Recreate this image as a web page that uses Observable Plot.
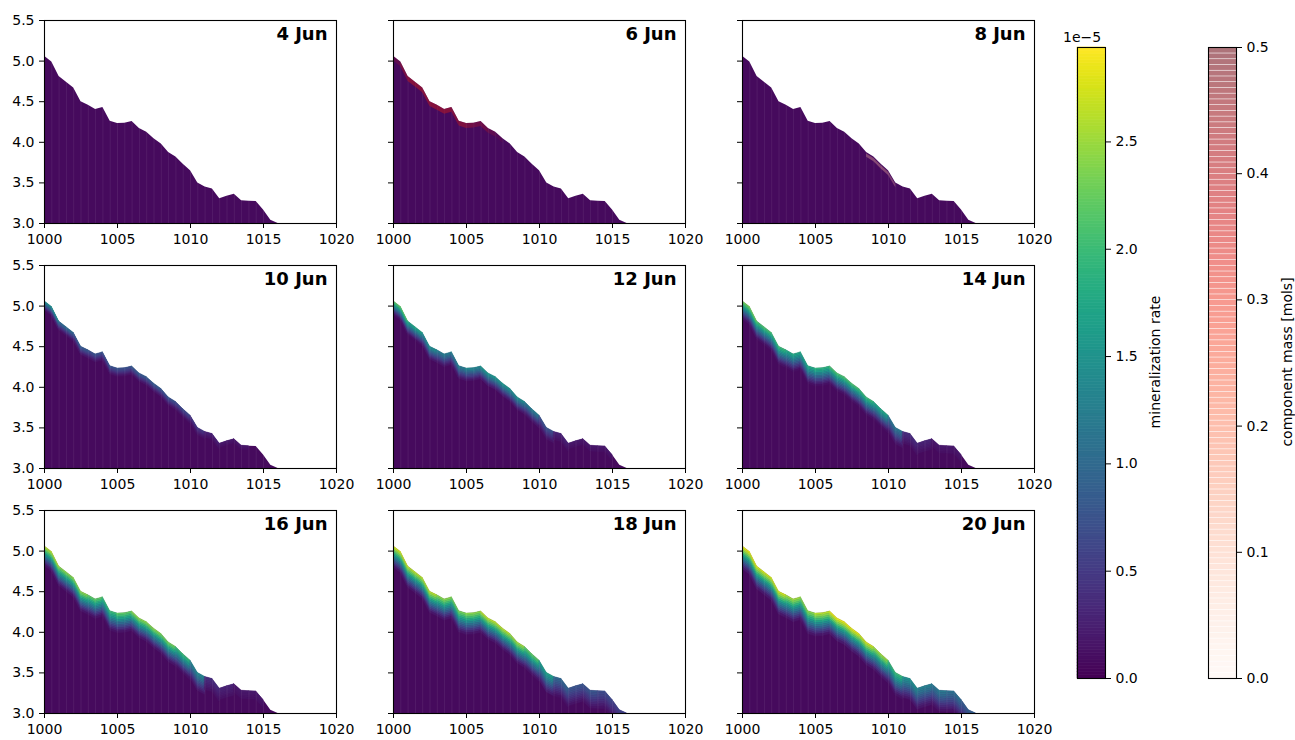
<!DOCTYPE html>
<html>
<head>
<meta charset="utf-8">
<script src="https://cdn.jsdelivr.net/npm/d3@7"></script>
<script src="https://cdn.jsdelivr.net/npm/@observablehq/plot@0.6"></script>
<style>
  html, body { margin: 0; padding: 0; background: #fff; }
  #root { position: relative; width: 1295px; height: 740px; overflow: hidden; font-family: "DejaVu Sans", sans-serif; }
  #root > svg, #root > .lbl { position: absolute; }
  .lbl { font-size: 14px; color: #000; white-space: nowrap; }
  .rot { transform: translate(-50%, -50%) rotate(-90deg); }
</style>
</head>
<body>
<div id="root"></div>
<script>
// ---------------- data ----------------
const dates = ["4 Jun", "6 Jun", "8 Jun", "10 Jun", "12 Jun", "14 Jun", "16 Jun", "18 Jun", "20 Jun"];

// surface (top of the domain), every 0.5 m
const surfaceX = [1000, 1000.5, 1001, 1001.5, 1002, 1002.5, 1003, 1003.5, 1004, 1004.5, 1005, 1005.5,
  1006, 1006.5, 1007, 1007.5, 1008, 1008.5, 1009, 1009.5, 1010, 1010.5, 1011, 1011.5, 1012, 1012.5,
  1013, 1013.5, 1014, 1014.5, 1015, 1015.5, 1016];
const surfaceY = [5.06, 4.99, 4.81, 4.74, 4.67, 4.50, 4.455, 4.405, 4.43, 4.26, 4.23, 4.235,
  4.255, 4.17, 4.125, 4.045, 3.98, 3.875, 3.82, 3.73, 3.65, 3.50, 3.45, 3.425, 3.305, 3.335,
  3.36, 3.28, 3.275, 3.27, 3.165, 3.04, 3.0];

// mineralization rate at the surface (units of 1e-5), one value per metre from 1000 to 1016
const rateJun4  = [0, 0, 0, 0, 0, 0, 0, 0, 0, 0, 0, 0, 0, 0, 0, 0, 0];
const rateJun6  = [0, 0, 0, 0, 0, 0, 0, 0, 0, 0, 0, 0, 0, 0, 0, 0, 0];
const rateJun8  = [0, 0, 0, 0, 0, 0, 0, 0, 0, 0, 0, 0, 0, 0, 0, 0, 0];
const rateJun10 = [1.5, 1.1, 0.9, 0.8, 0.8, 0.8, 0.9, 0.9, 0.8, 0.7, 0.5, 0.3, 0.2, 0.2, 0.1, 0.1, 0];
const rateJun12 = [2.2, 1.8, 1.5, 1.3, 1.3, 1.4, 1.6, 1.6, 1.5, 1.3, 0.8, 0.3, 0.2, 0.2, 0.2, 0.1, 0];
const rateJun14 = [2.3, 2.1, 2.0, 1.8, 1.8, 1.9, 2.1, 2.1, 2.0, 1.8, 1.2, 0.4, 0.3, 0.2, 0.2, 0.1, 0];
const rateJun16 = [2.6, 2.4, 2.4, 2.2, 2.0, 2.2, 2.4, 2.4, 2.3, 2.0, 1.4, 0.4, 0.3, 0.2, 0.2, 0.1, 0];
const rateJun18 = [2.7, 2.6, 2.6, 2.4, 2.3, 2.4, 2.6, 2.6, 2.5, 2.2, 1.7, 1.0, 0.8, 0.8, 0.7, 0.6, 0];
const rateJun20 = [2.8, 2.7, 2.7, 2.5, 2.4, 2.6, 2.8, 2.8, 2.7, 2.5, 2.0, 1.5, 1.3, 1.2, 1.1, 0.9, 0];
const rateByDate = [rateJun4, rateJun6, rateJun8, rateJun10, rateJun12, rateJun14, rateJun16, rateJun18, rateJun20];

// thickness of the reactive band below the surface, per date
const bandDepth = [0, 0, 0, 0.12, 0.17, 0.22, 0.24, 0.26, 0.28];
// relative rate in the mesh layers below the surface (top to bottom)
const layerFactor = [1.0, 0.93, 0.85, 0.76, 0.66, 0.56, 0.46, 0.37, 0.28, 0.2, 0.13, 0.07];

// component mass [mols] near the surface, one value per half metre from 1000 to 1016
const massJun6 = [0.2, 0.4, 0.5, 0.5, 0.5, 0.5, 0.5, 0.5, 0.45, 0.45, 0.35, 0.3, 0.3, 0.2, 0.1, 0, 0,
  0, 0, 0, 0, 0, 0, 0, 0, 0, 0, 0, 0, 0, 0, 0];
const massJun8 = [0, 0, 0, 0, 0, 0, 0, 0, 0, 0, 0, 0, 0, 0, 0, 0, 0,
  0.35, 0.35, 0.35, 0.3, 0, 0, 0, 0, 0, 0, 0, 0, 0, 0, 0];
const massByDate = [null, massJun6, massJun8, null, null, null, null, null, null];
const massDepth = [null, [0, 0.06], [0.02, 0.06], null, null, null, null, null, null];
const massTone = [null, 0.78, 0.25, null, null, null, null, null, null];

const xTicks = [1000, 1005, 1010, 1015, 1020];
const yTicks = [3.0, 3.5, 4.0, 4.5, 5.0, 5.5];
const rateTicks = [0.0, 0.5, 1.0, 1.5, 2.0, 2.5];
const rateMax = 2.94;
const massTicks = [0.0, 0.1, 0.2, 0.3, 0.4, 0.5];
const massMax = 0.5;

// ---------------- layout ----------------
const colLeft = [44, 393, 742];
const rowTop = [20, 265, 510];
const PW = 292, PH = 203;
const ML = 45, MR = 20, MT = 5, MB = 30;
const purple = "#460a5d";
const root = document.getElementById("root");

const surface = surfaceX.map((x, i) => ({x, y: surfaceY[i]}));

function panel(k) {
  const col = k % 3, row = Math.floor(k / 3);
  const rates = rateByDate[k];
  const cells = [];
  const n = layerFactor.length;
  for (let i = 0; i < surfaceX.length - 1; i++) {
    const r = rates[Math.floor(i / 2)];
    if (!(r > 0)) continue;
    layerFactor.forEach((f, j) => {
      if (r * f < 0.12) return;
      const d0 = bandDepth[k] * j / n, d1 = bandDepth[k] * (j + 1) / n;
      const id = i + "-" + j;
      cells.push({id, x: surfaceX[i], lo: surfaceY[i] - d1, hi: surfaceY[i] - d0, rate: r * f});
      cells.push({id, x: surfaceX[i + 1], lo: surfaceY[i + 1] - d1, hi: surfaceY[i + 1] - d0, rate: r * f});
    });
  }
  const massCells = [];
  let overlayColor = "none";
  if (massByDate[k]) {
    const m = massByDate[k], [d0, d1] = massDepth[k];
    overlayColor = d3.interpolateReds(massTone[k]);
    for (let i = 0; i < surfaceX.length - 1; i++) {
      const v = m[i];
      if (!(v > 0)) continue;
      massCells.push({id: i, x: surfaceX[i], lo: surfaceY[i] - d1, hi: surfaceY[i] - d0, mass: v});
      massCells.push({id: i, x: surfaceX[i + 1], lo: surfaceY[i + 1] - d1, hi: surfaceY[i + 1] - d0, mass: v});
    }
  }
  const svg = Plot.plot({
    width: PW + ML + MR, height: PH + MT + MB,
    marginLeft: ML, marginRight: MR, marginTop: MT, marginBottom: MB,
    x: {domain: [1000, 1020]},
    y: {domain: [3, 5.5]},
    color: {type: "linear", scheme: "viridis", domain: [0, rateMax]},
    opacity: {domain: [0, massMax], range: [0, 0.75]},
    style: {fontFamily: "DejaVu Sans", fontSize: "14px", overflow: "visible", background: "transparent", color: "#000"},
    marks: [
      Plot.areaY(surface, {x: "x", y1: () => 3, y2: "y", fill: purple}),
      Plot.areaY(cells, {x: "x", y1: "lo", y2: "hi", z: "id", fill: "rate", stroke: "rate", strokeWidth: 0.5, clip: true}),
      Plot.ruleX(surface.slice(1, -2), {x: "x", y1: () => 3, y2: "y", stroke: "white", strokeOpacity: 0.09, strokeWidth: 0.8}),
      Plot.areaY(massCells, {x: "x", y1: "lo", y2: "hi", z: "id", fill: overlayColor, fillOpacity: "mass", clip: true}),
      Plot.frame({stroke: "#000", strokeWidth: 1.1}),
      Plot.axisX({ticks: xTicks, tickFormat: "d", tickSize: 5, tickPadding: 6, label: null}),
      Plot.axisY({ticks: yTicks, tickFormat: col === 0 ? (d => d.toFixed(1)) : (() => ""), tickSize: 5, tickPadding: 5, label: null}),
      Plot.text([dates[k]], {frameAnchor: "top-right", dx: -9, dy: 7, fontSize: 18, fontWeight: "bold", lineAnchor: "top"})
    ]
  });
  svg.style.left = (colLeft[col] - ML) + "px";
  svg.style.top = (rowTop[row] - MT) + "px";
  root.appendChild(svg);
}
for (let k = 0; k < 9; k++) panel(k);

// ---------------- colorbars ----------------
const CB_TOP = 47, CB_H = 631, CB_W = 28;
function colorbar(left, max, ticks, scheme, nb, opts) {
  const step = max / nb;
  const bins = d3.range(nb).map(i => i * step);
  const svg = Plot.plot({
    width: CB_W + 45, height: CB_H + 10,
    marginLeft: 0, marginRight: 45, marginTop: 5, marginBottom: 5,
    x: {domain: [0, 1], axis: null},
    y: {domain: [0, max], axis: null},
    color: {type: "linear", scheme, domain: [0, max]},
    style: {fontFamily: "DejaVu Sans", fontSize: "14px", overflow: "visible", background: "transparent", color: "#000"},
    marks: [
      Plot.rect(bins, {x1: () => 0, x2: () => 1, y1: d => d, y2: d => d + step, fill: d => d + step / 2, ...opts}),
      Plot.frame({stroke: "#000", strokeWidth: 1.1}),
      Plot.axisY({anchor: "right", ticks, tickFormat: d => d.toFixed(1), tickSize: 5, tickPadding: 5, label: null})
    ]
  });
  svg.style.left = left + "px";
  svg.style.top = (CB_TOP - 5) + "px";
  root.appendChild(svg);
}
colorbar(1077, rateMax, rateTicks, "viridis", 200, {stroke: d => d + rateMax / 400, strokeWidth: 0.6});
colorbar(1208, massMax, massTicks, "reds", 110, {fillOpacity: 0.55, insetTop: 0.6});

function label(text, x, y, rot) {
  const d = document.createElement("div");
  d.className = "lbl" + (rot ? " rot" : "");
  d.textContent = text;
  d.style.left = x + "px";
  d.style.top = y + "px";
  root.appendChild(d);
}
label("1e\u22125", 1063, 29, false);
label("mineralization rate", 1155, 362, true);
label("component mass [mols]", 1287, 362, true);
</script>
</body>
</html>
